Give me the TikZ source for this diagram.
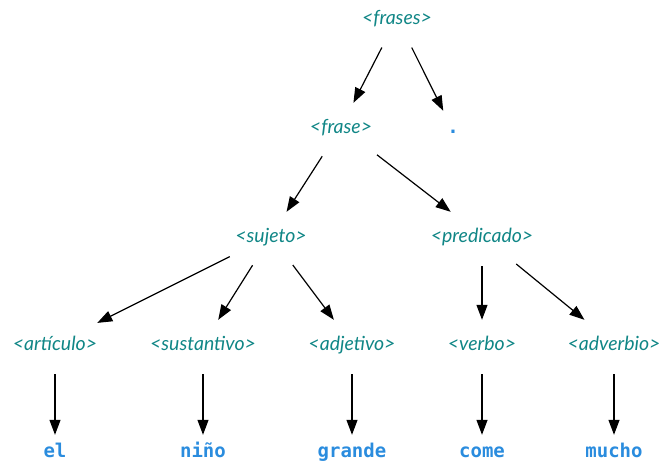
\documentclass[tikz,border=0pt]{standalone}
\usepackage{fontspec}
\newfontfamily\symfont{Lato}
\newfontfamily\termfont{DejaVu Sans Mono}
\usetikzlibrary{arrows.meta}
\definecolor{symcolor}{RGB}{16,134,134}
\definecolor{termcolor}{RGB}{42,140,222}

\begin{document}
\begin{tikzpicture}[x=1pt, y=-1pt,
    nonterm/.style={font=\symfont\itshape\fontsize{19.5}{22}\selectfont, text=symcolor,
        minimum height=48pt, inner ysep=2pt, inner xsep=0pt, text height=1.36em, text depth=0.05em},
    term/.style={font=\termfont\bfseries\fontsize{19}{22}\selectfont, text=termcolor, anchor=base,
        minimum width=30pt, inner sep=2pt, outer ysep=13pt, text height=0.72em, text depth=0.19em},
    arr/.style={-{Triangle[length=15pt,width=11pt]}, line width=1.2pt, shorten <=6pt}]
    \useasboundingbox (0,0) rectangle (662,461);

    % Raiz
    \node[nonterm] (frases) at (397,18) {<frases>};

    % Nivel 1
    \node[nonterm] (frase) at (341,127) {<frase>};
    \node[term] (punto) at (453,133) {.};

    % Nivel 2
    \node[nonterm] (sujeto) at (271,236) {<sujeto>};
    \node[nonterm] (predicado) at (482,236) {<predicado>};

    % Nivel 3
    \node[nonterm] (articulo) at (55,344) {<artículo>};
    \node[nonterm] (sustantivo) at (203,344) {<sustantivo>};
    \node[nonterm] (adjetivo) at (352,344) {<adjetivo>};
    \node[nonterm] (verbo) at (482,344) {<verbo>};
    \node[nonterm] (adverbio) at (614,344) {<adverbio>};

    % Palabras
    \node[term] (el) at (55,457) {el};
    \node[term] (nino) at (203,457) {niño};
    \node[term] (grande) at (352,457) {grande};
    \node[term] (come) at (482,457) {come};
    \node[term] (mucho) at (614,457) {mucho};

    % Flechas
    \draw[arr] (frases) -- (frase);
    \draw[arr] (frases) -- (punto);
    \draw[arr] (frase) -- (sujeto);
    \draw[arr] (frase) -- (predicado);
    \draw[arr] (sujeto) -- (articulo);
    \draw[arr] (sujeto) -- (sustantivo);
    \draw[arr] (sujeto) -- (adjetivo);
    \draw[arr] (predicado) -- (verbo);
    \draw[arr] (predicado) -- (adverbio);
    \draw[arr] (articulo) -- (el);
    \draw[arr] (sustantivo) -- (nino);
    \draw[arr] (adjetivo) -- (grande);
    \draw[arr] (verbo) -- (come);
    \draw[arr] (adverbio) -- (mucho);
\end{tikzpicture}
\end{document}
